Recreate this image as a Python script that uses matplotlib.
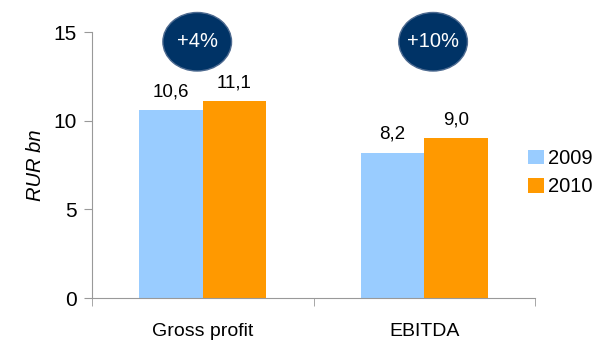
import matplotlib
matplotlib.use("Agg")
import matplotlib.pyplot as plt
import numpy as np
from matplotlib.patches import Ellipse

plt.rcParams['font.family'] = ['Liberation Sans', 'DejaVu Sans']

categories = ["Gross profit", "EBITDA"]
years = ["2009", "2010"]
values_2009 = [10.6, 8.2]
values_2010 = [11.1, 9.0]
growth = ["+4%", "+10%"]
value_labels_2009 = ["10,6", "8,2"]
value_labels_2010 = ["11,1", "9,0"]

C_2009 = "#99CCFF"
C_2010 = "#FF9900"
NAVY = "#003366"

fig = plt.figure(figsize=(6.02, 3.41), dpi=100)
ax = fig.add_axes([92 / 602, 43 / 341, 443 / 602, 266 / 341])

x = np.arange(len(categories))
w = 0.287
b1 = ax.bar(x - w / 2, values_2009, w, color=C_2009, label=years[0])
b2 = ax.bar(x + w / 2, values_2010, w, color=C_2010, label=years[1])

for bar, lbl in zip(b1, value_labels_2009):
    ax.text(bar.get_x() + bar.get_width() / 2, bar.get_height() + 0.55, lbl,
            ha='center', va='bottom', fontsize=13.5)
for bar, lbl in zip(b2, value_labels_2010):
    ax.text(bar.get_x() + bar.get_width() / 2, bar.get_height() + 0.55, lbl,
            ha='center', va='bottom', fontsize=13.5)

# growth badges above each group
for xi, g, dx in zip(x, growth, [-0.025, 0.04]):
    e = Ellipse((xi + dx, 14.45), 0.31, 3.3, facecolor=NAVY, edgecolor="#4d6a90",
                linewidth=1.0, clip_on=False, zorder=5)
    ax.add_patch(e)
    ax.text(xi + dx, 14.45, g, ha='center', va='center', color='white',
            fontsize=14.5, zorder=6)

ax.set_xlim(-0.5, 1.5)
ax.set_ylim(0, 15)
ax.set_yticks([0, 5, 10, 15])
ax.set_xticks(x)
ax.set_xticklabels(categories, fontsize=14)
ax.set_xticks([-0.5, 0.5, 1.5], minor=True)
ax.tick_params(axis='x', which='major', length=0, pad=18)
ax.tick_params(axis='x', which='minor', length=6, color='#999999')
ax.tick_params(axis='y', length=6, color='#999999', labelsize=15, pad=5)
ax.set_ylabel("RUR bn", fontstyle='italic', fontsize=14.5, labelpad=6)

for side in ['top', 'right']:
    ax.spines[side].set_visible(False)
for side in ['left', 'bottom']:
    ax.spines[side].set_color('#999999')

ax.legend(loc='upper left', bbox_to_anchor=(0.967, 0.59), frameon=False,
          fontsize=14.5, handlelength=0.75, handleheight=0.75, handletextpad=0.2,
          labelspacing=0.45, borderaxespad=0)

fig.savefig("out.png", dpi=100)
